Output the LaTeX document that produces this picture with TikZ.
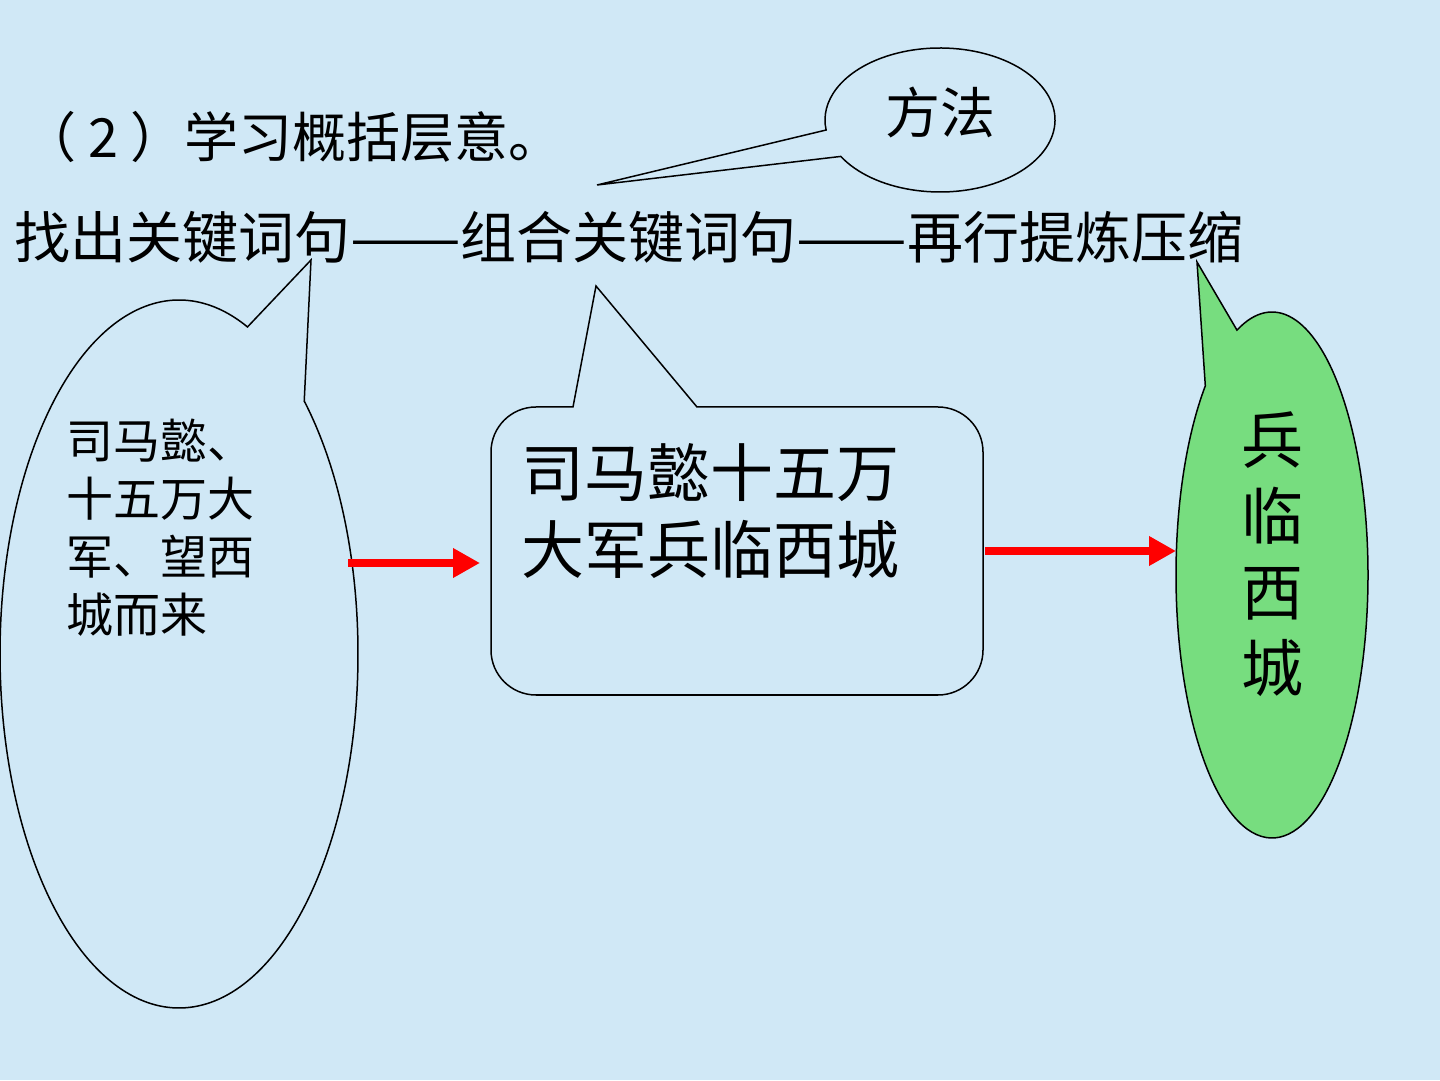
\documentclass[tikz,border=0pt]{standalone}
\usepackage{fontspec}
\newfontfamily\cjk{Noto Sans CJK SC}
\usetikzlibrary{arrows.meta,calc}
\definecolor{bgblue}{RGB}{208,232,246}
\definecolor{bubgreen}{RGB}{119,221,127}
\tikzset{
  bubble/.style={draw=black, line width=1.5pt, line join=miter},
  txt/.style={inner sep=0pt, text=black},
  redarrow/.style={draw=red, line width=8pt, -{Triangle[length=27pt,width=28pt]}},
}
\newcommand{\longdash}{\scalebox{1.18}[1]{——}}
\begin{document}
\begin{tikzpicture}[x=1pt,y=1pt]
\fill[bgblue] (0,0) rectangle (1440,1080);
\useasboundingbox (0,0) rectangle (1440,1080);

% headings
\node[txt, anchor=west, font=\cjk\fontsize{54}{60}\selectfont] (title) at (22,943) {（ 2 ）学习概括层意。};
\node[txt, anchor=west, font=\cjk\fontsize{56}{64}\selectfont] (steps) at (14,843) {找出关键词句\longdash 组合关键词句\longdash 再行提炼压缩};

% callout "方法"
\coordinate (fftip) at (597,895);
\draw[bubble] ($(940,960)+(210.4:115pt and 72pt)$) arc[start angle=210.4, end angle=548, x radius=115pt, y radius=72pt] -- (fftip) -- cycle;
\node[txt, font=\cjk\fontsize{55}{60}\selectfont] (ff) at (940,968) {方法};

% left callout
\coordinate (ltip) at (311,820);
\draw[bubble] ($(179,426)+(45.6:179pt and 354pt)$) arc[start angle=45.6, end angle=-292.5, x radius=179pt, y radius=354pt] -- (ltip) -- cycle;
\node[txt, anchor=west, align=left, font=\cjk\fontsize{47}{58}\selectfont] (ltext) at (66,552) {司马懿、\\十五万大\\军、望西\\城而来};

% middle callout
\coordinate (mtip) at (596,794);
\draw[bubble] (573,673) -- (mtip) -- (697,673) -- (938,673)
  arc[start angle=90, end angle=0, radius=45pt] -- (983,430)
  arc[start angle=0, end angle=-90, radius=45pt] -- (536,385)
  arc[start angle=-90, end angle=-180, radius=45pt] -- (491,628)
  arc[start angle=180, end angle=90, radius=45pt] -- cycle;
\node[txt, anchor=west, align=left, font=\cjk\fontsize{63}{77}\selectfont] (mtext) at (521,569) {司马懿十五万\\大军兵临西城};

% right green callout
\coordinate (rtip) at (1197,818);
\draw[bubble, fill=bubgreen] ($(1272,505)+(134:96pt and 263pt)$) arc[start angle=134, end angle=471.4, x radius=96pt, y radius=263pt] -- (rtip) -- cycle;
\node[txt, align=center, font=\cjk\fontsize{62}{76}\selectfont] (rtext) at (1272,526) {兵\\临\\西\\城};

% arrows
\coordinate (a1s) at (348,517);
\coordinate (a1e) at (480,517);
\coordinate (a2s) at (985,529);
\coordinate (a2e) at (1176,529);
\draw[redarrow] (a1s) -- (a1e);
\draw[redarrow] (a2s) -- (a2e);
\end{tikzpicture}
\end{document}
